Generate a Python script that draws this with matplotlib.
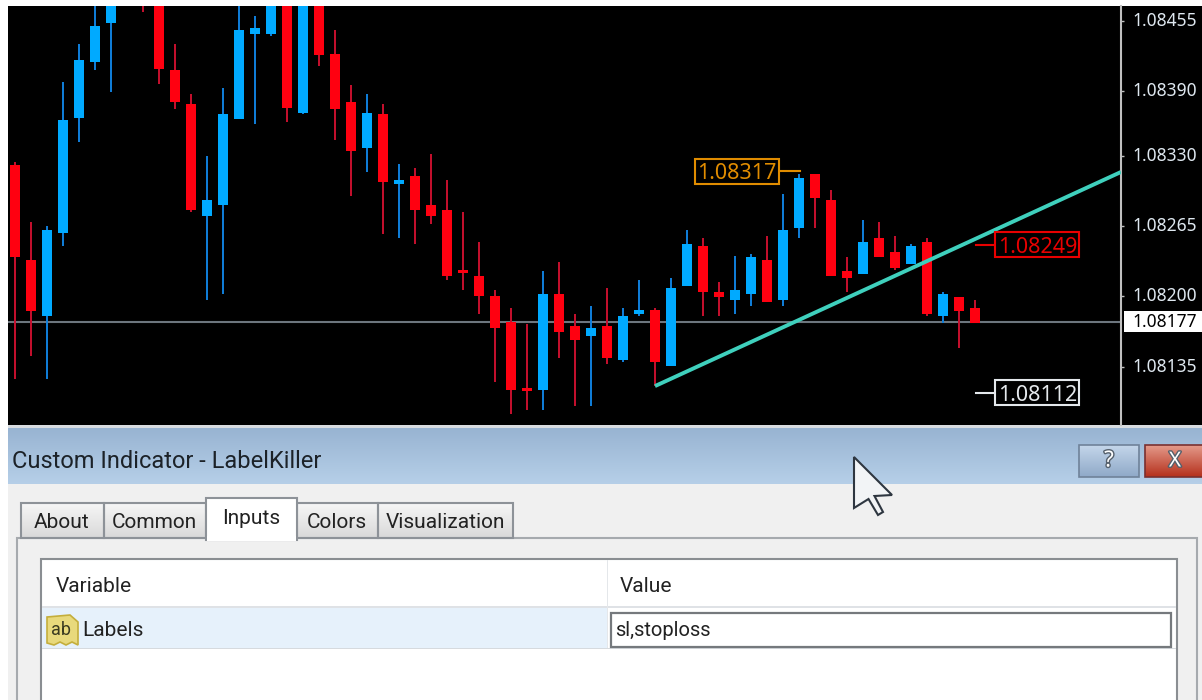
import numpy as np
import matplotlib.pyplot as plt
import matplotlib.patheffects as pe
from matplotlib.patches import Rectangle, Polygon
from matplotlib.colors import to_rgb
from matplotlib.transforms import ScaledTranslation

plt.rcParams['font.family'] = ['Noto Sans', 'DejaVu Sans']

# Prices in points (1.08321 -> 108321), some bars run off the top of the chart so those are guesses
opens = [108321, 108234, 108182, 108259, 108365, 108417, 108453, 108505, 108500, 108490,
         108409, 108378, 108274, 108284, 108364, 108443, 108443, 108490, 108370, 108490,
         108424, 108380, 108337, 108369, 108304, 108311, 108284, 108280, 108224, 108219,
         108200, 108176, 108115, 108113, 108202, 108173, 108163, 108173, 108141, 108184,
         108187, 108136, 108210, 108247, 108204, 108197, 108202, 108234, 108197, 108263,
         108313, 108289, 108223, 108221, 108254, 108241, 108230, 108250, 108182, 108199,
         108189]
closes = [108236, 108186, 108261, 108363, 108419, 108450, 108480, 108490, 108475, 108410,
          108380, 108280, 108289, 108369, 108446, 108448, 108480, 108374, 108490, 108423,
          108373, 108334, 108370, 108306, 108308, 108280, 108274, 108219, 108222, 108200,
          108171, 108113, 108112, 108202, 108167, 108160, 108171, 108143, 108182, 108187,
          108139, 108208, 108248, 108204, 108199, 108206, 108236, 108195, 108261, 108309,
          108291, 108219, 108217, 108250, 108236, 108226, 108247, 108184, 108202, 108186,
          108175]
highs = [108324, 108269, 108265, 108398, 108433, 108485, 108495, 108520, 108510, 108500,
         108433, 108387, 108330, 108393, 108480, 108459, 108500, 108500, 108500, 108500,
         108446, 108395, 108387, 108378, 108322, 108319, 108332, 108308, 108278, 108250,
         108206, 108189, 108174, 108223, 108232, 108184, 108191, 108208, 108189, 108215,
         108189, 108217, 108261, 108254, 108213, 108237, 108239, 108256, 108295, 108313,
         108313, 108298, 108236, 108271, 108269, 108256, 108248, 108254, 108204, 108199,
         108197]
lows = [108124, 108145, 108124, 108247, 108343, 108409, 108389, 108480, 108463, 108396,
        108373, 108278, 108197, 108202, 108364, 108359, 108441, 108361, 108369, 108413,
        108345, 108293, 108315, 108258, 108254, 108248, 108267, 108215, 108206, 108184,
        108121, 108091, 108095, 108095, 108143, 108099, 108099, 108137, 108139, 108182,
        108117, 108136, 108210, 108182, 108182, 108184, 108191, 108195, 108191, 108254,
        108263, 108219, 108204, 108221, 108236, 108224, 108230, 108182, 108175, 108152,
        108175]

tick_labels = ['1.08455', '1.08390', '1.08330', '1.08265', '1.08200', '1.08135']
tick_values = [float(t) for t in tick_labels]
current_price = 1.08176
current_label = '1.08177'
trend_x = [40, 69.125]
trend_y = [1.08117, 1.08315]
labels = ['1.08317', '1.08249', '1.08112']
label_colors = ['#e08c00', '#e80000', '#e4e8ec']
label_start = [47.75, 60.06, 60.06]
label_end = [49.06, 61.31, 61.31]
label_mid = [45.1, 63.9, 63.9]

tabs = ['About', 'Common', 'Inputs', 'Colors', 'Visualization']
tab_edges = [20.5, 103.6, 206, 297, 377.6, 513]

o = np.array(opens) / 1e5
c = np.array(closes) / 1e5
h = np.array(highs) / 1e5
l = np.array(lows) / 1e5
x = np.arange(len(o))
up = c > o

fig = plt.figure(figsize=(12.02, 7), dpi=100, facecolor='white')

# whole window in pixels, for the dialog below the chart
ui = fig.add_axes([0, 0, 1, 1], zorder=1)
ui.set_axis_off()


def grad(x0, x1, y0, y1, c0, c1):
    g = np.linspace(to_rgb(c0), to_rgb(c1), 64).reshape(64, 1, 3)
    ui.imshow(g, extent=(x0, x1, y1, y0), aspect='auto', interpolation='bilinear', zorder=2)


def box(x0, x1, y0, y1, fc='none', ec='none', lw=1, z=3):
    ui.add_patch(Rectangle((x0, y0), x1 - x0, y1 - y0, fc=fc, ec=ec, lw=lw, zorder=z))


box(8, 1202, 6, 425, fc='black', z=1)
box(1124, 1202, 311, 332, fc='white', z=3)

# dialog
box(8, 1202, 425, 428, fc='#d8dce0', z=2)
grad(8, 1202, 428, 484, '#98b4d2', '#b6cfe8')
box(8, 1202, 484, 700, fc='#f0f0f0', z=2)
ui.text(12, 462, 'Custom Indicator - LabelKiller', fontsize=17, color='#1c2228', va='center', zorder=5,
        family='Roboto')

# help and close buttons
outline = [pe.withStroke(linewidth=2, foreground='#55606c')]
grad(1079, 1139, 445, 477, '#c4d6ea', '#8fa9c8')
box(1079, 1139, 445, 477, ec='#6f8299', lw=1.2, z=4)
ui.text(1109, 461, '?', fontsize=16, color='white', ha='center', va='center', fontweight='bold', zorder=5,
        path_effects=outline)
grad(1145, 1203, 445, 477, '#e49a8a', '#b5301c')
box(1145, 1203, 445, 477, ec='#7a3030', lw=1.2, z=4)
ui.text(1175, 461, 'X', fontsize=15, color='white', ha='center', va='center', fontweight='bold', zorder=5,
        path_effects=outline)

# tab panel and table
box(16.5, 1197, 538, 705, fc='#f0f0f0', ec='#a6aaae', lw=1.5, z=3)
box(41, 1177, 559, 705, fc='white', ec='#8a8e92', lw=1.5, z=3)
grad(42, 1176, 584, 606, '#f6f7f9', '#f1f3f6')
box(42, 1176, 606, 607.5, fc='#dfe2e6', z=4)
box(606.5, 608, 560, 648, fc='#e4e7ea', z=4)
box(42, 607, 607.5, 647.5, fc='#e6f1fb', z=4)
box(42, 1176, 647.5, 649, fc='#d6dade', z=4)
ui.text(56, 586, 'Variable', fontsize=15, color='#222222', va='center', zorder=5, family='Roboto')
ui.text(620, 586, 'Value', fontsize=15, color='#222222', va='center', zorder=5, family='Roboto')
ui.text(82, 630, 'Labels', fontsize=15, color='#222222', va='center', zorder=5, family='Roboto')
# little scrap of paper icon
ui.add_patch(Polygon([(47, 617), (70, 615), (78, 622), (78, 645), (72, 642), (66, 645), (60, 642), (54, 645), (47, 643)],
                     closed=True, fc='#e8d97c', ec='#c4ae3c', lw=1.2, zorder=5))
ui.text(61, 630, 'ab', fontsize=13, color='#3a3a20', ha='center', va='center', zorder=6, family='Roboto')
box(611, 1171, 613, 647, fc='white', ec='#75797d', lw=1.6, z=5)
ui.text(615, 630, 'sl,stoploss', fontsize=14.5, color='#222222', va='center', zorder=6, family='Roboto')

# tabs, the active one is taller and white
for i, t in enumerate(tabs):
    x0, x1 = tab_edges[i], tab_edges[i + 1]
    if t == 'Inputs':
        box(x0, x1, 498, 540, fc='white', ec='#8d9298', lw=1.5, z=6)
        box(x0 + 1, x1 - 1, 536, 541, fc='white', z=6)
        ty = 518
    else:
        grad(x0, x1, 503, 538, '#f6f6f6', '#d9d9d9')
        box(x0, x1, 503, 538, ec='#8d9298', lw=1.5, z=4)
        ty = 522
    ui.text((x0 + x1) / 2, ty, t, fontsize=15, color='#222222', ha='center', va='center', zorder=7,
            family='Roboto')

# mouse pointer
ui.add_patch(Polygon([(854, 457), (854, 508), (868.5, 499), (878, 515), (883, 512), (874.5, 496), (892, 495)],
                     closed=True, fc='#f2f4f6', ec='#2e3640', lw=1.5, zorder=9))

ui.set_xlim(0, 1202)
ui.set_ylim(700, 0)

# chart
ax = fig.add_axes([8 / 1202, 275 / 700, 1113 / 1202, 419 / 700], zorder=2)
ax.set_facecolor('black')
ax.vlines(x[up], l[up], h[up], color='#1080dc', lw=1.4, zorder=2)
ax.vlines(x[~up], l[~up], h[~up], color='#c8102e', lw=1.4, zorder=2)
ax.bar(x[up], (c - o)[up], bottom=o[up], width=0.62, color='#00aaff', zorder=3)
ax.bar(x[~up], (o - c)[~up], bottom=c[~up], width=0.62, color='#ff0010', zorder=3)
ax.axhline(current_price, color='#6d767e', lw=1.5, zorder=1)
ax.plot(trend_x, trend_y, color='#3fd0bd', lw=2.8, zorder=4, solid_capstyle='butt')

for i, t in enumerate(labels):
    p = float(t) - 0.000013
    half_w = 2.62
    half_h = 0.000116
    ax.plot([label_start[i], label_end[i]], [p, p], color=label_colors[i], lw=1.5, zorder=5)
    ax.add_patch(Rectangle((label_mid[i] - half_w, p - half_h), 2 * half_w, 2 * half_h, fc='black',
                           ec=label_colors[i], lw=1.5, zorder=5))
    ax.text(label_mid[i] + 0.02, p, t, fontsize=15.5, color=label_colors[i], ha='center', va='center_baseline',
            zorder=6)

ax.set_xlim(-0.4375, 69.125)
ax.set_ylim(1.08081, 1.084685)
ax.set_xticks([])
ax.yaxis.tick_right()
ax.set_yticks(tick_values)
ax.set_yticklabels(tick_labels)
ax.tick_params(axis='y', length=2.5, width=1, color='#c0c0c0', labelcolor='#dfe8f0', labelsize=12.5, pad=6)
# the platform draws its price text a touch above the tick
up_shift = ScaledTranslation(0, 2 / 100, fig.dpi_scale_trans)
for lab in ax.get_yticklabels():
    lab.set_transform(lab.get_transform() + up_shift)
for s in ['top', 'left', 'bottom']:
    ax.spines[s].set_visible(False)
ax.spines['right'].set_color('#c0c0c0')
ax.spines['right'].set_linewidth(1.5)
ax.text(1.0105, current_price, current_label, transform=ax.get_yaxis_transform(), fontsize=12.5,
        color='black', va='center', clip_on=False)

fig.savefig('out.png', dpi=100)
